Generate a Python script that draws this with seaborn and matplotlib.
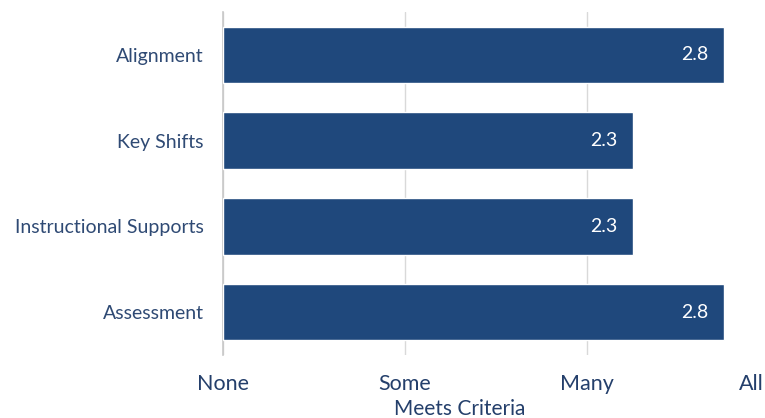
import matplotlib
matplotlib.use("Agg")
import matplotlib.pyplot as plt
import matplotlib.transforms as mtransforms
import seaborn as sns
import pandas as pd

categories = ["Alignment", "Key Shifts", "Instructional Supports", "Assessment"]
values = [2.75, 2.25, 2.25, 2.75]
value_labels = ["2.8", "2.3", "2.3", "2.8"]
tick_values = [0, 1, 2, 3]
tick_labels = ["None", "Some", "Many", "All"]
x_title = "Meets Criteria"

sns.set_theme(style="white")
plt.rcParams["font.family"] = ["Lato", "DejaVu Sans"]

df = pd.DataFrame({"category": categories, "value": values})

fig = plt.figure(figsize=(7.65, 4.18), dpi=100)
W, H = 765, 418
ax = fig.add_axes([223 / W, 1 - 355 / H, (769 - 223) / W, (355 - 12) / H])

bar_color = "#1f487c"
sns.barplot(data=df, x="value", y="category", orient="h", color=bar_color,
            width=0.66, saturation=1, ax=ax, zorder=3)

ax.set_xlim(0, 3)
ax.set_ylim(3.5, -0.5)
ax.set_xticks(tick_values)
ax.set_xticklabels(tick_labels, fontsize=15.5, color="#243f6b")
ax.tick_params(axis="x", length=0, pad=14)
ax.tick_params(axis="y", length=0, pad=14, labelsize=14, labelcolor="#2f4a74")

# shift the last tick label ("All") left so it stays inside the figure
lbl = ax.get_xticklabels()[-1]
lbl.set_transform(lbl.get_transform() +
                  mtransforms.ScaledTranslation(-18 / 100, 0, fig.dpi_scale_trans))

ax.grid(axis="x", color="#d9d9d9", linewidth=1, zorder=0)
ax.grid(axis="y", visible=False)
for s in ["top", "right", "bottom"]:
    ax.spines[s].set_visible(False)
ax.spines["left"].set_color("#c8c8c8")
ax.spines["left"].set_linewidth(1.2)

ax.set_ylabel("")
ax.set_xlabel(x_title, fontsize=15, color="#243f6b")
ax.xaxis.label.set_verticalalignment("center")
ax.xaxis.set_label_coords((460 - 223) / (769 - 223), -(409 - 355) / (355 - 12))

for i, (v, t) in enumerate(zip(values, value_labels)):
    ax.annotate(t, xy=(v, i), xytext=(-11, 0), textcoords="offset points",
                ha="right", va="center", color="white", fontsize=14, zorder=4)

fig.savefig("out.png", dpi=100)
